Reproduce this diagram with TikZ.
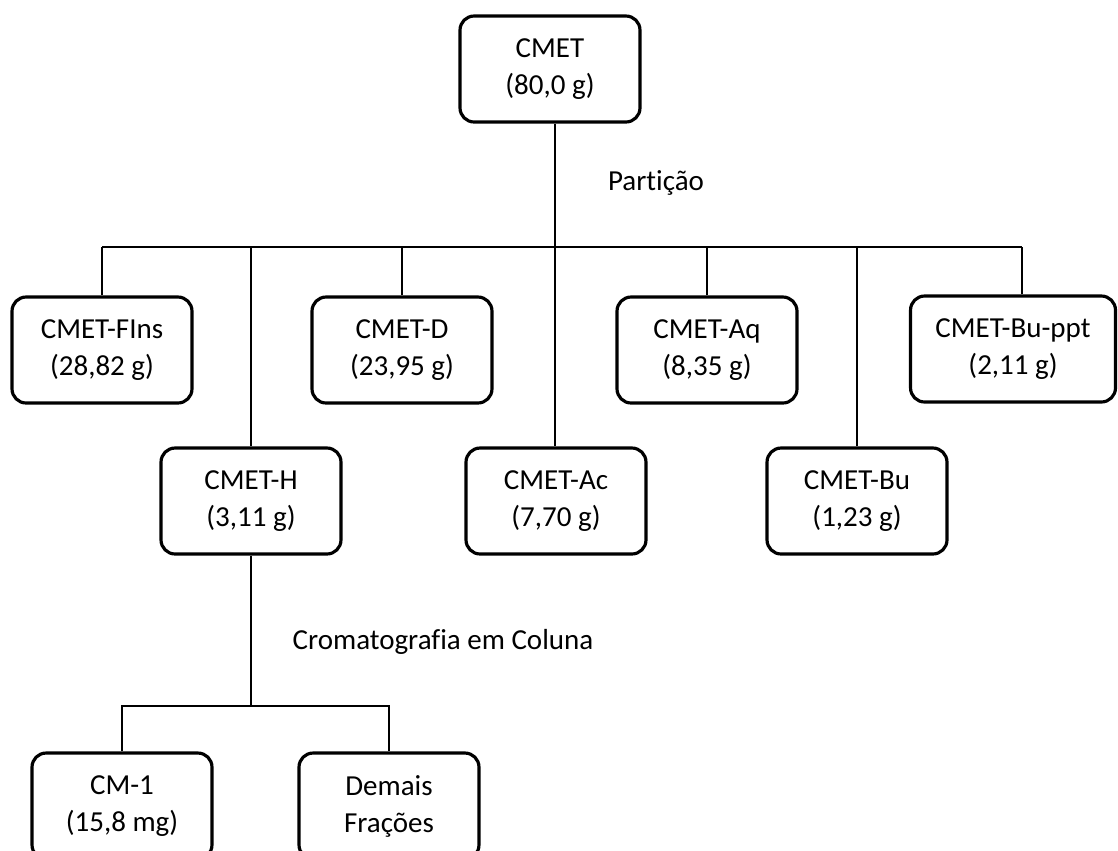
\documentclass[tikz,border=0pt]{standalone}
\usepackage{fontspec}
\setmainfont{Carlito}[Ligatures=CommonOff]
\usetikzlibrary{positioning, calc}
\tikzset{
  every picture/.style={font=\fontsize{16.5}{21}\selectfont, line width=0.9pt},
  frac/.style={draw, line width=1.8pt, rounded corners=8pt, align=center, minimum width=3.6cm, minimum height=2.12cm, inner sep=2pt},
  link/.style={draw, line width=0.9pt},
  stage/.style={inner sep=0pt},
}

\begin{document}
\begin{tikzpicture}[x=0.02cm, y=-0.02cm]
  \useasboundingbox (0,0) rectangle (1118,850);
  % crude extract
  \node[frac] (cmet) at (550,69) {CMET\\(80,0 g)};
  % partition fractions, upper row
  \node[frac] (fins) at (102,350) {CMET-FIns\\(28,82 g)};
  \node[frac] (d) at (402,350) {CMET-D\\(23,95 g)};
  \node[frac] (aq) at (707,350) {CMET-Aq\\(8,35 g)};
  \node[frac, minimum width=4.1cm] (buppt) at (1013,349) {CMET-Bu-ppt\\(2,11 g)};
  % partition fractions, lower row
  \node[frac] (h) at (251,501) {CMET-H\\(3,11 g)};
  \node[frac] (ac) at (556,501) {CMET-Ac\\(7,70 g)};
  \node[frac] (bu) at (857,501) {CMET-Bu\\(1,23 g)};
  % column fractions
  \node[frac] (cm1) at (122,806) {CM-1\\(15,8 mg)};
  \node[frac] (demais) at (389,806) {Demais\\Frações};

  % kern breaks the ti / fi ligatures
  \node[stage] (lpart) at (656,183) {Part\kern0pt ição};
  \node[stage] (lcol) at (443,642) {Cromatograf\kern0pt ia em Coluna};

  % partition tree
  \coordinate (part) at (555,247);
  \coordinate (bpstem) at ([xshift=0.18cm]buppt.north);
  \draw[link] (cmet.south -| part) -- (ac.north -| part);
  \draw[link] (fins.north |- part) -- (bpstem |- part);
  \foreach \n in {fins, d, aq, h, bu} \draw[link] (\n.north) -- (\n.north |- part);
  \draw[link] (bpstem) -- (bpstem |- part);
  % column chromatography
  \coordinate (col) at (250,706);
  \draw[link] (h.south) -- (h.south |- col);
  \draw[link] (cm1.north) -- (cm1.north |- col) -- (demais.north |- col) -- (demais.north);
\end{tikzpicture}
\end{document}
